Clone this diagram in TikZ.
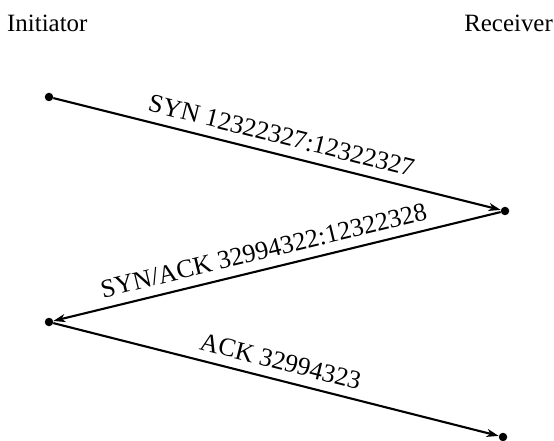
\documentclass[tikz,border=0pt]{standalone}
\usepackage{fontspec}
\setmainfont{Liberation Serif}
\usetikzlibrary{arrows.meta}
\begin{document}
\begin{tikzpicture}[x=1bp,y=-1bp,
  endpt/.style={circle,fill=black,inner sep=0pt,minimum size=8.5bp},
  msg/.style={line width=2.1bp,-{Stealth[length=12bp,width=8bp,inset=3.5bp]}},
  lbl/.style={font=\fontsize{26}{30}\selectfont,sloped,above,midway,inner sep=0pt,yshift=9bp},
  hdr/.style={font=\fontsize{25}{29}\selectfont,inner sep=0pt}]
\useasboundingbox (0,0) rectangle (554,441);
\node[hdr,anchor=base west] (ini) at (7,32) {Initiator};
\node[hdr,anchor=base east] (rec) at (553,32) {Receiver};
\node[endpt] (a1) at (49,97) {};
\node[endpt] (b1) at (505,211) {};
\node[endpt] (a2) at (49,322) {};
\node[endpt] (b2) at (503,437) {};
\draw[msg] (a1) -- node[lbl] {SYN 12322327:12322327} (b1);
\draw[msg] (b1) -- node[lbl,pos=0.52] {SYN/ACK 32994322:12322328} (a2);
\draw[msg] (a2) -- node[lbl] {ACK 32994323} (b2);
\end{tikzpicture}
\end{document}
